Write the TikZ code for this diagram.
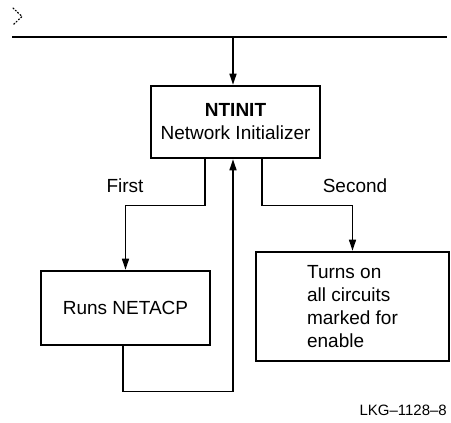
\documentclass[tikz,border=0pt]{standalone}
\usepackage{fontspec}
\setmainfont{Liberation Sans}
\usetikzlibrary{arrows.meta}
\begin{document}
\begin{tikzpicture}[x=1pt,y=-1pt,
  box/.style={draw, line width=2.6pt, inner sep=0pt, font=\fontsize{19}{23}\selectfont},
  conn/.style={line width=1.4pt},
  arr/.style={conn, -{Triangle[length=11pt,width=7pt]}},
  lbl/.style={font=\fontsize{19}{23}\selectfont, inner sep=0pt},
  bus/.style={line width=2.8pt}
]
\useasboundingbox (0,0) rectangle (451,423);
% dotted mark
\draw[line width=1.2pt, dotted, line cap=round] (13,8) -- (22,16.5) -- (13,25);
% bus
\coordinate (busL) at (12,37);
\coordinate (busR) at (447,37);
\coordinate (busT) at (233,37);
\draw[bus] (busL) -- (busR);
% boxes
\node[box, minimum width=169pt, minimum height=72pt, align=center] (ntinit) at (235.5,122)
  {\textbf{NTINIT}\\Network Initializer};
\node[box, minimum width=169pt, minimum height=74pt] (runs) at (125.5,308) {Runs NETACP};
\node[box, minimum width=193pt, minimum height=109pt, align=left] (turns) at (352.5,306.5)
  {Turns on\\all circuits\\marked for\\enable};
% connectors
\draw[arr] (busT) -- (busT |- ntinit.north);
\draw[arr] ([xshift=-30.5pt]ntinit.south) -- ++(0,46) -| (runs.north);
\draw[arr] ([xshift=26.5pt]ntinit.south) -- ++(0,46) -| (turns.north);
\draw[arr] ([xshift=-2.5pt]runs.south) -- ++(0,45) -| ([xshift=-2.5pt]ntinit.south);
% labels
\node[lbl] (first) at (125,186) {First};
\node[lbl] (second) at (355,186) {Second};
\node[lbl, font=\fontsize{15}{18}\selectfont, anchor=east] (code) at (447,410) {LKG–1128–8};
\end{tikzpicture}
\end{document}
